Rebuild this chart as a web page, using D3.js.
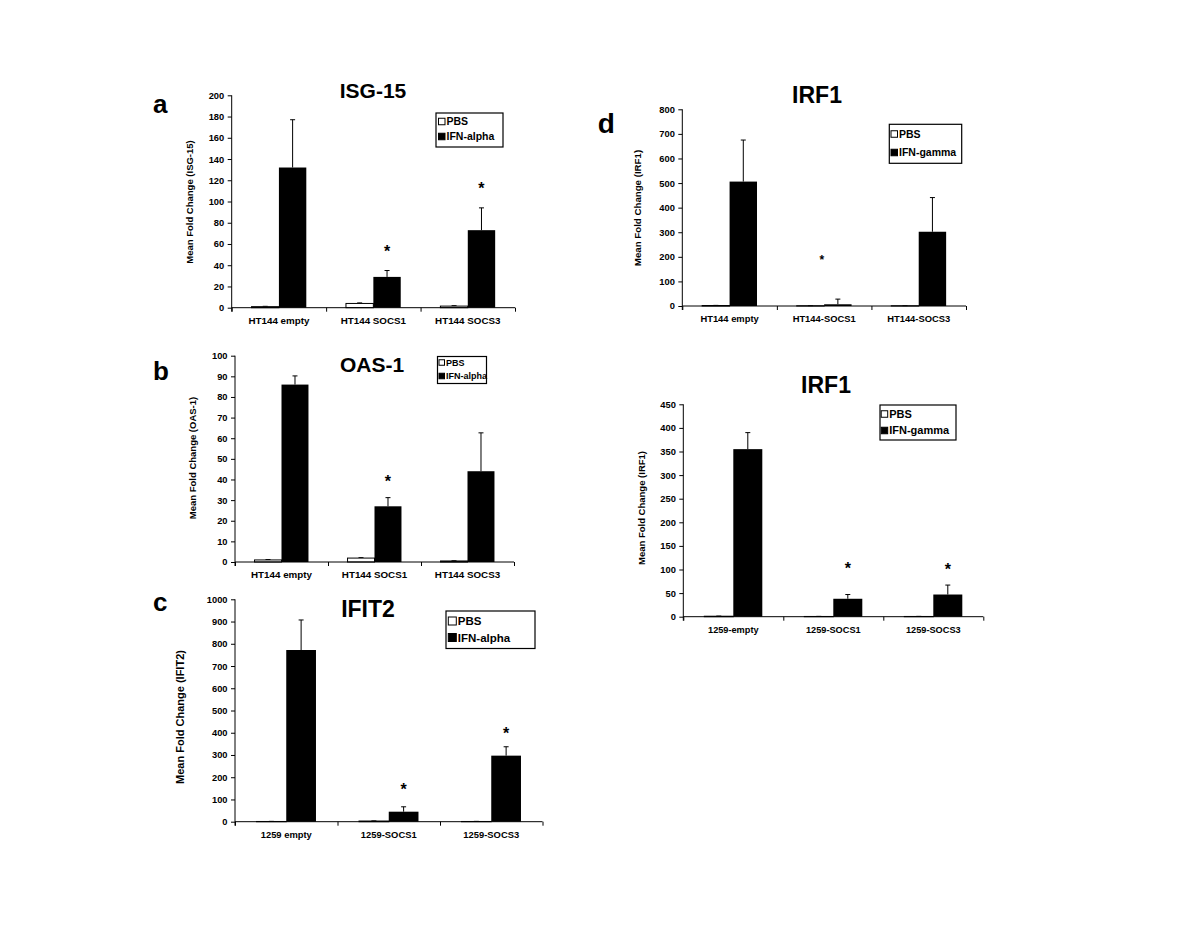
<!DOCTYPE html>
<html>
<head>
<meta charset="utf-8">
<script src="https://cdn.jsdelivr.net/npm/d3@7"></script>
<style>
  body { margin: 0; background: #fff; }
  svg { display: block; }
  text { font-family: "Liberation Sans", Arial, sans-serif; font-weight: bold; fill: #000; }
</style>
</head>
<body>
<svg id="chart" width="1200" height="927"></svg>
<script>
// ---- data ----
const alphaTreatments = ["PBS", "IFN-alpha"];
const gammaTreatments = ["PBS", "IFN-gamma"];

// a: ISG-15
const isgCats = ["HT144 empty", "HT144 SOCS1", "HT144 SOCS3"];
const isgPbs = [1, 4, 1.5];
const isgPbsErr = [0.3, 0.5, 0.4];
const isgIfn = [132, 29, 73];
const isgIfnErr = [45, 6, 21];
const isgStars = [null, 56, 116];
const isgTicks = d3.range(0, 201, 20);

// b: OAS-1
const oasCats = ["HT144 empty", "HT144 SOCS1", "HT144 SOCS3"];
const oasPbs = [1, 1.9, 0.5];
const oasPbsErr = [0.2, 0.2, 0.1];
const oasIfn = [86, 27, 44];
const oasIfnErr = [4.2, 4.2, 18.6];
const oasStars = [null, 41, null];
const oasTicks = d3.range(0, 101, 10);

// c: IFIT2
const ifitCats = ["1259 empty", "1259-SOCS1", "1259-SOCS3"];
const ifitPbs = [1, 3, 1];
const ifitPbsErr = [0.5, 0.5, 0.5];
const ifitIfn = [772, 45, 297];
const ifitIfnErr = [135, 22, 40];
const ifitStars = [null, 160, 415];
const ifitTicks = d3.range(0, 1001, 100);

// d top: IRF1 in HT144
const irfHtCats = ["HT144 empty", "HT144-SOCS1", "HT144-SOCS3"];
const irfHtPbs = [2, 1, 1];
const irfHtPbsErr = [0.5, 0.5, 0.5];
const irfHtIfn = [506, 7, 302];
const irfHtIfnErr = [169, 21, 139];
const irfHtStars = [null, 200, null];
const irfHtTicks = d3.range(0, 801, 100);

// d bottom: IRF1 in 1259
const irf1259Cats = ["1259-empty", "1259-SOCS1", "1259-SOCS3"];
const irf1259Pbs = [1, 0.5, 0.5];
const irf1259PbsErr = [0.3, 0.2, 0.2];
const irf1259Ifn = [355, 38, 47];
const irf1259IfnErr = [35, 9, 20];
const irf1259Stars = [null, 110, 108];
const irf1259Ticks = d3.range(0, 451, 50);

// ---- panel layout ----
const panels = [
  { letter: "a", title: "ISG-15", yLabel: "Mean Fold Change (ISG-15)",
    cats: isgCats, pbs: isgPbs, pbsErr: isgPbsErr, ifn: isgIfn, ifnErr: isgIfnErr, stars: isgStars,
    ticks: isgTicks, treatments: alphaTreatments,
    left: 231.7, right: 515, top: 95.3, bottom: 307.7,
    titlePos: [373, 98, 21], letterPos: [153, 113, 26], yLabPos: [190, 202, 9.5],
    legend: { x: 436, y: 113, w: 67, h: 34, rows: [121.5, 136.5], size: 10.5, sq: 6.5, pad: 2.5 },
    catSize: 9.8, starSize: 16, starDx: 0 },
  { letter: "b", title: "OAS-1", yLabel: "Mean Fold Change (OAS-1)",
    cats: oasCats, pbs: oasPbs, pbsErr: oasPbsErr, ifn: oasIfn, ifnErr: oasIfnErr, stars: oasStars,
    ticks: oasTicks, treatments: alphaTreatments,
    left: 235, right: 514, top: 355.7, bottom: 562,
    titlePos: [372, 372, 21], letterPos: [153, 380, 26], yLabPos: [193, 458, 9.5],
    legend: { x: 437.5, y: 356.5, w: 49, h: 27, rows: [362.5, 376], size: 9, sq: 5.5, pad: 1.5 },
    catSize: 9.8, starSize: 16, starDx: 0 },
  { letter: "c", title: "IFIT2", yLabel: "Mean Fold Change (IFIT2)",
    cats: ifitCats, pbs: ifitPbs, pbsErr: ifitPbsErr, ifn: ifitIfn, ifnErr: ifitIfnErr, stars: ifitStars,
    ticks: ifitTicks, treatments: alphaTreatments,
    left: 235, right: 542.5, top: 599.3, bottom: 821.7,
    titlePos: [368, 617, 23], letterPos: [153, 611, 26], yLabPos: [180, 717, 11],
    legend: { x: 446, y: 611, w: 89, h: 37.5, rows: [621, 637.5], size: 11.5, sq: 8, pad: 2.3 },
    catSize: 9.4, starSize: 16, starDx: 0 },
  { letter: "d", title: "IRF1", yLabel: "Mean Fold Change (IRF1)",
    cats: irfHtCats, pbs: irfHtPbs, pbsErr: irfHtPbsErr, ifn: irfHtIfn, ifnErr: irfHtIfnErr, stars: irfHtStars,
    ticks: irfHtTicks, treatments: gammaTreatments,
    left: 682.3, right: 966, top: 109.3, bottom: 306,
    titlePos: [817, 103, 23], letterPos: [597.7, 133, 28], yLabPos: [637.7, 208, 9.7],
    legend: { x: 889.3, y: 124.3, w: 72.4, h: 39, rows: [134, 152.5], size: 10.5, sq: 6.5, pad: 1.7 },
    catSize: 9.4, starSize: 12, starDx: -16 },
  { letter: "", title: "IRF1", yLabel: "Mean Fold Change (IRF1)",
    cats: irf1259Cats, pbs: irf1259Pbs, pbsErr: irf1259PbsErr, ifn: irf1259Ifn, ifnErr: irf1259IfnErr, stars: irf1259Stars,
    ticks: irf1259Ticks, treatments: gammaTreatments,
    left: 683.3, right: 983.3, top: 404.3, bottom: 616.7,
    titlePos: [826, 393, 23], letterPos: [0, 0, 0], yLabPos: [642, 508, 9.5],
    legend: { x: 880, y: 405, w: 76, h: 35, rows: [414, 430.5], size: 11, sq: 6.5, pad: 1.2 },
    catSize: 9.2, starSize: 16, starDx: 0 }
];

const svg = d3.select("#chart");
const barFrac = 0.29;   // each bar's width as share of a category
const capW = 5;

const drawPanel = (p) => {
  const g = svg.append("g");
  const yMax = p.ticks[p.ticks.length - 1];

  const y = d3.scaleLinear().domain([0, yMax]).range([p.bottom, p.top]);
  const x = d3.scaleBand().domain(p.cats).range([p.left, p.right]).padding(0);
  const bw = x.bandwidth() * barFrac;
  const xBound = d3.scaleLinear().domain([0, p.cats.length]).range([p.left, p.right]);

  const groups = p.cats.map((c, i) => ({
    cat: c,
    pbs: p.pbs[i], pbsErr: p.pbsErr[i],
    ifn: p.ifn[i], ifnErr: p.ifnErr[i],
    star: p.stars[i]
  }));

  const cx = (d) => x(d.cat) + x.bandwidth() / 2;

  // error bars (drawn under the bars so only the upper half shows)
  const errs = [];
  groups.forEach(d => {
    errs.push({ x: cx(d) - bw / 2, v: d.pbs, e: d.pbsErr });
    errs.push({ x: cx(d) + bw / 2, v: d.ifn, e: d.ifnErr });
  });

  const err = g.selectAll("g.err").data(errs).enter().append("g")
    .attr("class", "err")
    .attr("stroke", "#000")
    .attr("stroke-width", 1);

  err.append("line")
    .attr("x1", d => d.x).attr("x2", d => d.x)
    .attr("y1", d => y(d.v)).attr("y2", d => y(d.v + d.e));

  err.append("line")
    .attr("x1", d => d.x - capW / 2).attr("x2", d => d.x + capW / 2)
    .attr("y1", d => y(d.v + d.e)).attr("y2", d => y(d.v + d.e));

  g.selectAll("rect.pbs").data(groups).enter().append("rect")
    .attr("class", "pbs")
    .attr("x", d => cx(d) - bw)
    .attr("y", d => y(d.pbs))
    .attr("width", bw)
    .attr("height", d => p.bottom - y(d.pbs))
    .attr("fill", "#fff")
    .attr("stroke", "#000")
    .attr("stroke-width", 1);

  g.selectAll("rect.ifn").data(groups).enter().append("rect")
    .attr("class", "ifn")
    .attr("x", d => cx(d))
    .attr("y", d => y(d.ifn))
    .attr("width", bw)
    .attr("height", d => p.bottom - y(d.ifn))
    .attr("fill", "#000");

  // significance stars over the IFN bar
  g.selectAll("text.star").data(groups.filter(d => d.star !== null)).enter().append("text")
    .attr("class", "star")
    .attr("x", d => cx(d) + bw / 2 + p.starDx)
    .attr("y", d => y(d.star) + p.starSize * 0.57)
    .attr("text-anchor", "middle")
    .attr("font-size", p.starSize)
    .text("*");

  // y axis
  const yAxis = g.append("g")
    .attr("transform", `translate(${p.left},0)`)
    .call(d3.axisLeft(y).tickValues(p.ticks).tickFormat(d3.format("d"))
      .tickSize(4).tickSizeOuter(0).tickPadding(3.5));
  yAxis.attr("font-family", null).attr("font-size", 9.3);
  yAxis.select(".domain").remove();

  // x axis with ticks at category boundaries
  const xAxis = g.append("g")
    .attr("transform", `translate(0,${p.bottom})`)
    .call(d3.axisBottom(xBound).tickValues(d3.range(0, p.cats.length + 1))
      .tickSize(4).tickSizeOuter(0).tickFormat(""));
  xAxis.select(".domain").remove();

  g.append("line")
    .attr("x1", p.left).attr("x2", p.right)
    .attr("y1", p.bottom).attr("y2", p.bottom)
    .attr("stroke", "#000");
  g.append("line")
    .attr("x1", p.left).attr("x2", p.left)
    .attr("y1", p.top).attr("y2", p.bottom + 4)
    .attr("stroke", "#000");

  g.selectAll("text.cat").data(p.cats).enter().append("text")
    .attr("class", "cat")
    .attr("x", d => x(d) + x.bandwidth() / 2)
    .attr("y", p.bottom + 16)
    .attr("text-anchor", "middle")
    .attr("font-size", p.catSize)
    .text(d => d);

  // y label
  g.append("text")
    .attr("transform", `translate(${p.yLabPos[0]},${p.yLabPos[1]}) rotate(-90)`)
    .attr("dy", "0.35em")
    .attr("text-anchor", "middle")
    .attr("font-size", p.yLabPos[2])
    .text(p.yLabel);

  // title and panel letter
  g.append("text")
    .attr("x", p.titlePos[0]).attr("y", p.titlePos[1])
    .attr("text-anchor", "middle")
    .attr("font-size", p.titlePos[2])
    .text(p.title);

  if (p.letter) {
    g.append("text")
      .attr("x", p.letterPos[0]).attr("y", p.letterPos[1])
      .attr("font-size", p.letterPos[2])
      .text(p.letter);
  }

  // legend
  const L = p.legend;
  const leg = g.append("g");
  leg.append("rect")
    .attr("x", L.x).attr("y", L.y).attr("width", L.w).attr("height", L.h)
    .attr("fill", "#fff").attr("stroke", "#000").attr("stroke-width", 1.2);

  const item = leg.selectAll("g.item").data(p.treatments).enter().append("g")
    .attr("class", "item")
    .attr("transform", (d, i) => `translate(${L.x + L.pad},${L.rows[i]})`);

  item.append("rect")
    .attr("x", 0).attr("y", -L.sq / 2)
    .attr("width", L.sq).attr("height", L.sq)
    .attr("fill", (d, i) => i === 0 ? "#fff" : "#000")
    .attr("stroke", "#000").attr("stroke-width", 1);

  item.append("text")
    .attr("x", L.sq + 1.5)
    .attr("dy", "0.35em")
    .attr("font-size", L.size)
    .text(d => d);
};

panels.forEach(drawPanel);
</script>
</body>
</html>
